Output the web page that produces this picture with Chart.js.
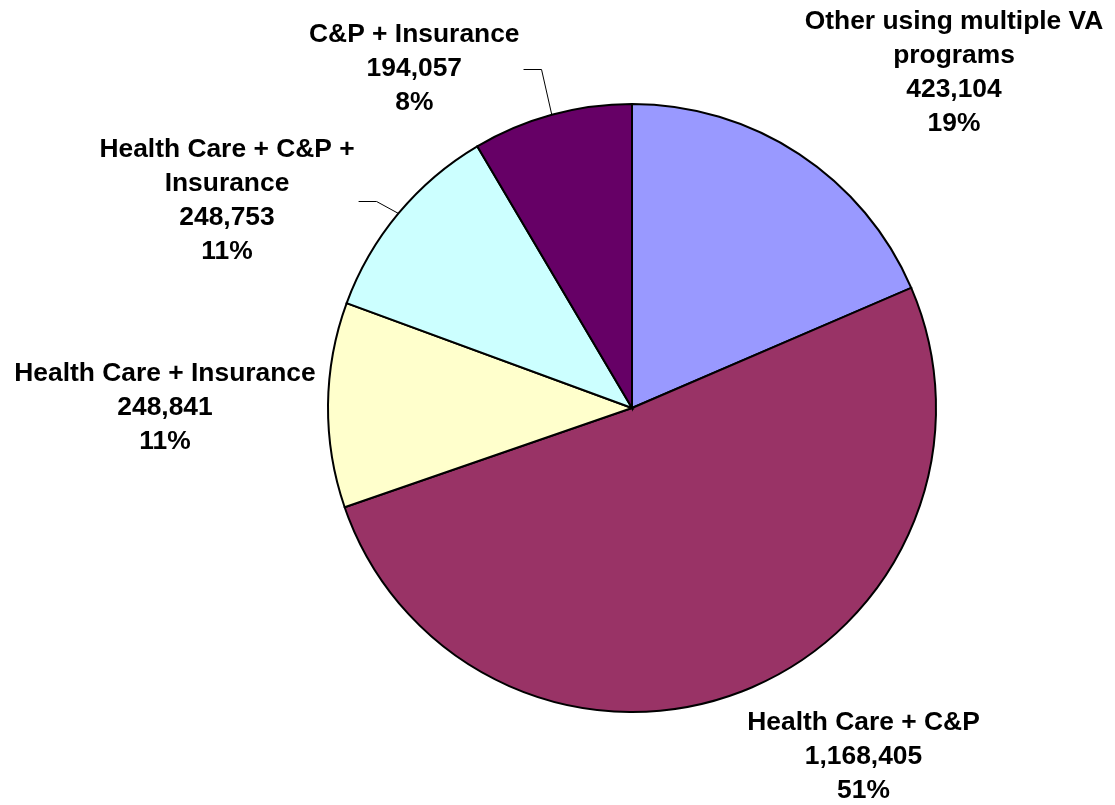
<!DOCTYPE html>
<html>
<head>
<meta charset="utf-8">
<script src="https://cdn.jsdelivr.net/npm/chart.js@4/dist/chart.umd.min.js"></script>
<style>
  html, body { margin: 0; padding: 0; background: #ffffff; }
  #wrap { width: 1115px; height: 805px; }
</style>
</head>
<body>
<div id="wrap"><canvas id="c" width="1115" height="805"></canvas></div>
<script>
// ---- Data ----
const categories = [
  ['Other using multiple VA', 'programs'],
  ['Health Care + C&P'],
  ['Health Care + Insurance'],
  ['Health Care + C&P +', 'Insurance'],
  ['C&P + Insurance']
];
const values = [423104, 1168405, 248841, 248753, 194057];
const sliceColors = ['#9999FF', '#993366', '#FFFFCC', '#CCFFFF', '#660066'];

// ---- Label layout (offsets of label block centre from pie centre, px) ----
const labelOffsets = [[322, -335], [231.5, 348.5], [-467, 0], [-405, -207], [-217.7, -339]];
const hasLeader = [false, false, false, true, true];

const FONT = 'bold 26.4px "Liberation Sans", Arial, sans-serif';
const LINE_H = 34;

const labelPlugin = {
  id: 'pieLabels',
  afterDatasetsDraw(chart) {
    const ctx = chart.ctx;
    const meta = chart.getDatasetMeta(0);
    const data = chart.data.datasets[0].data;
    const total = data.reduce((a, b) => a + b, 0);
    ctx.save();
    ctx.font = FONT;
    ctx.fillStyle = '#000000';
    ctx.textAlign = 'center';
    ctx.textBaseline = 'middle';
    meta.data.forEach((arc, i) => {
      const p = arc.getProps(['x', 'y', 'startAngle', 'endAngle', 'outerRadius'], true);
      const lines = [].concat(chart.data.labels[i]);
      lines.push(data[i].toLocaleString('en-US'));
      lines.push(Math.round(data[i] / total * 100) + '%');
      const cx = p.x + labelOffsets[i][0];
      const cy = p.y + labelOffsets[i][1];
      const y0 = cy - (lines.length - 1) * LINE_H / 2;
      let maxW = 0;
      lines.forEach((t, k) => {
        ctx.fillText(t, cx, y0 + k * LINE_H);
        maxW = Math.max(maxW, ctx.measureText(t).width);
      });
      if (hasLeader[i]) {
        const mid = (p.startAngle + p.endAngle) / 2;
        const ex = p.x + Math.cos(mid) * p.outerRadius;
        const ey = p.y + Math.sin(mid) * p.outerRadius;
        const sx = cx + maxW / 2 + 4;
        ctx.beginPath();
        ctx.strokeStyle = '#000000';
        ctx.lineWidth = 1;
        ctx.moveTo(sx, cy + 0.5);
        ctx.lineTo(sx + 18, cy + 0.5);
        ctx.lineTo(ex, ey);
        ctx.stroke();
      }
    });
    ctx.restore();
  }
};

new Chart(document.getElementById('c'), {
  type: 'pie',
  data: {
    labels: categories,
    datasets: [{
      data: values,
      backgroundColor: sliceColors,
      borderColor: '#000000',
      borderWidth: 2,
      borderJoinStyle: 'miter'
    }]
  },
  options: {
    responsive: false,
    animation: false,
    layout: { padding: { left: 327, right: 178, top: 103, bottom: 92 } },
    plugins: {
      legend: { display: false },
      tooltip: { enabled: false }
    }
  },
  plugins: [labelPlugin]
});
</script>
</body>
</html>
